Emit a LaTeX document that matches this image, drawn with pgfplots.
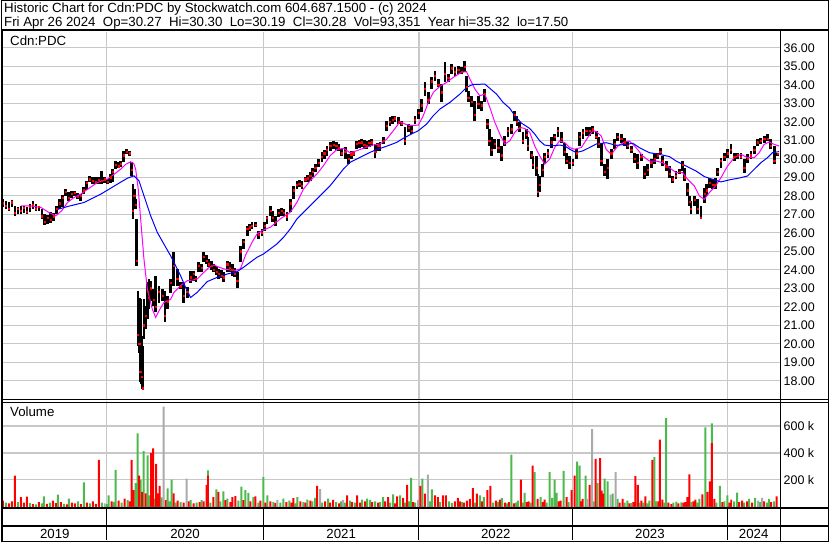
\documentclass[border=0pt]{standalone}
\usepackage{pgfplots}
\pgfplotsset{compat=1.18}
\usepackage{pgfplotstable}
\usepackage{fontspec}
\setmainfont{Liberation Sans}
\definecolor{volgreen}{RGB}{76,185,76}
\definecolor{volred}{RGB}{255,0,0}
\definecolor{volgray}{RGB}{170,170,170}
\definecolor{gridgray}{RGB}{200,200,200}
\definecolor{maline}{RGB}{255,0,255}
\definecolor{mbline}{RGB}{0,0,255}

\pgfplotstableread{
t hi lo cl
2 27.82 27.37 27.60
5 27.70 27.30 27.45
8 27.64 27.19 27.30
11 27.77 27.42 27.65
14 27.46 26.92 27.10
17 27.40 27.00 27.30
20 27.46 27.01 27.20
23 27.45 27.05 27.35
26 27.42 27.01 27.15
29 27.55 27.15 27.40
32 27.73 27.28 27.50
35 27.55 27.20 27.30
38 27.46 27.19 27.40
41 27.28 26.74 26.90
44 27.01 26.41 26.60
47 26.95 26.45 26.80
50 27.10 26.52 26.70
53 27.06 26.65 26.90
56 27.46 27.01 27.30
59 27.80 27.30 27.60
62 28.04 27.37 27.90
65 28.36 28.00 28.20
68 28.18 27.73 27.90
71 28.25 27.90 28.10
74 28.27 28.00 28.15
77 28.15 27.80 27.95
80 28.09 27.73 28.00
83 28.45 28.09 28.30
86 28.80 28.30 28.70
89 29.05 28.72 28.90
92 29.00 28.65 28.80
95 28.99 28.63 28.75
98 28.99 28.63 28.85
101 29.35 28.63 28.80
104 29.00 28.70 28.90
107 28.90 28.63 28.75
110 29.20 28.70 29.00
112 29.44 28.72 29.30
115 29.89 29.44 29.70
118 29.85 29.50 29.60
120 29.89 29.53 29.75
123 30.43 29.80 30.20
126 30.52 30.25 30.40
129 30.43 30.16 30.30
130.7 29.80 29.08 29.40
132.3 28.63 26.74 27.20
133.5 28.36 27.82 28.00
135 27.82 27.28 27.50
136 26.74 24.22 24.50
137.3 22.86 19.89 20.50
138.5 22.50 19.50 20.00
139.5 22.41 17.91 18.50
141 20.40 17.80 18.20
141.7 19.89 17.55 17.60
143.3 22.41 20.25 21.00
145 22.05 20.79 21.50
146.7 23.32 21.33 22.80
148.3 23.50 21.90 22.50
150 23.41 22.32 23.00
152.7 22.95 22.05 22.40
155 23.68 21.69 22.00
158.3 23.14 22.23 22.80
161.7 22.95 22.32 22.60
164.3 22.86 21.15 21.50
166.7 22.59 21.87 22.30
170 23.50 22.77 23.30
173.3 24.94 23.14 24.20
176.7 24.04 23.14 23.50
180 23.32 22.95 23.10
183.3 23.32 22.23 22.60
186.7 23.05 22.50 22.80
190 23.95 23.30 23.60
193 23.95 23.41 23.80
195.5 23.68 23.32 23.50
198.3 24.41 23.86 24.20
201 24.30 23.90 24.10
203.3 24.95 24.41 24.70
206 24.80 24.30 24.50
208.3 24.59 24.14 24.30
211 24.50 24.00 24.20
213.3 24.32 23.86 24.00
216 24.20 23.70 23.90
218.3 24.05 23.50 23.80
221 24.00 23.55 23.70
223.3 23.86 23.36 23.60
226.7 24.50 23.86 24.30
229 24.40 23.90 24.10
231.7 24.32 23.68 24.00
234 24.10 23.60 23.80
236.7 23.86 23.00 23.40
240 25.31 24.41 25.00
243.3 25.67 25.13 25.50
246.7 26.39 25.85 26.20
249 26.50 26.10 26.30
251.7 26.57 26.21 26.40
255 26.60 26.30 26.45
258.3 26.12 25.67 25.90
261.7 26.21 25.85 26.00
264 26.60 26.10 26.40
266.7 26.93 26.48 26.80
270 27.47 26.93 27.20
272.5 27.20 26.60 26.80
275 26.93 26.39 26.60
278.3 27.29 26.84 27.10
281 27.35 26.90 27.20
283.3 27.29 26.93 27.10
286.7 27.11 26.66 26.90
290 27.83 27.11 27.60
293.3 28.55 27.83 28.30
296.7 28.82 28.37 28.60
299 28.85 28.45 28.65
301.7 28.82 28.37 28.55
305 29.00 28.73 28.90
307.5 29.10 28.75 28.95
310 29.27 28.82 29.10
312.5 29.50 29.00 29.30
315 29.72 29.27 29.50
318.3 29.99 29.54 29.80
321.7 30.35 29.81 30.10
324 30.50 30.00 30.30
326.7 30.71 30.17 30.50
330 30.89 30.44 30.70
333.3 30.98 30.53 30.75
336 30.90 30.45 30.70
338.3 30.80 30.44 30.60
341.7 30.53 30.17 30.30
345 30.62 29.99 30.40
348.3 30.26 29.72 30.00
351 30.40 30.00 30.25
353.3 30.44 30.17 30.30
356.7 30.98 30.53 30.80
359 31.00 30.60 30.85
361.7 31.07 30.62 30.90
364 31.00 30.55 30.75
366.7 30.98 30.53 30.70
369 31.00 30.65 30.85
371.7 31.07 30.71 30.90
375 30.80 30.03 30.40
377.5 30.85 30.40 30.70
380 30.89 30.44 30.70
383.3 31.16 30.80 31.00
386.7 32.06 31.52 31.80
390 32.24 31.79 32.00
392.5 32.30 31.90 32.10
395 32.33 31.97 32.20
398.3 32.24 31.88 32.00
401.7 32.06 31.79 31.90
405 31.70 30.72 31.00
408.3 31.88 31.43 31.70
411.7 31.79 31.34 31.50
415 32.33 31.88 32.10
418.3 32.69 32.15 32.50
421.7 33.23 32.51 32.90
425 34.13 33.41 33.80
428.3 33.59 32.96 33.20
431.7 34.40 33.77 34.20
435 34.77 34.22 34.50
438.3 34.31 33.86 34.00
441.7 34.04 33.05 33.60
445 35.22 34.13 34.60
448.3 34.58 34.13 34.40
451.7 35.13 34.58 34.90
455 34.95 34.49 34.70
458.3 35.04 34.58 34.80
461.7 34.95 34.58 34.70
465 35.31 34.68 35.00
466.7 34.49 33.59 33.90
468.3 33.68 33.05 33.30
471.7 33.41 32.78 33.10
475 33.14 32.06 32.40
478.3 33.41 32.69 33.00
481.7 33.14 32.60 32.90
485 33.77 33.05 33.50
487.3 32.15 31.61 31.90
489.3 31.61 30.70 31.00
491.7 31.16 30.16 30.50
495 31.06 30.52 30.80
498.3 31.06 30.34 30.60
501.7 30.70 29.89 30.20
505 31.25 30.70 31.00
508.3 31.70 31.16 31.50
511.7 31.88 31.34 31.60
515 32.60 32.06 32.40
517.3 32.33 31.79 32.00
520 31.97 31.43 31.70
523.3 31.43 30.79 31.00
526.7 31.61 31.06 31.30
528.3 31.16 30.43 30.70
531.7 30.43 29.98 30.20
533.3 30.16 29.44 29.70
536.7 30.16 29.08 29.50
538.3 29.17 27.91 28.20
540 29.08 28.18 28.60
542.7 29.71 28.99 29.40
545 30.34 29.71 30.10
548.3 30.52 30.07 30.30
551.7 31.16 30.61 30.90
555 31.34 30.97 31.20
558.3 31.70 31.16 31.50
561.7 31.43 30.88 31.10
565 30.88 30.16 30.40
566.7 30.34 29.71 29.90
570 30.16 29.44 29.80
573.3 29.98 29.62 29.80
576.7 30.52 29.98 30.30
580 31.43 30.70 31.20
583.3 31.61 31.06 31.40
586.7 31.70 31.25 31.50
590 31.70 31.25 31.50
593.3 31.79 31.34 31.60
596.7 31.50 31.05 31.20
599 31.20 30.60 30.80
601.7 30.87 29.61 29.90
605 29.70 29.07 29.30
608.3 29.97 28.89 29.50
611.7 30.51 29.97 30.30
615 31.05 30.51 30.80
618.3 31.41 30.96 31.20
621.7 31.32 30.87 31.10
625 31.14 30.69 30.90
628.3 30.96 30.51 30.70
631.7 30.69 30.33 30.50
635 30.33 29.79 30.00
638.3 30.24 29.43 29.80
641.7 30.24 29.88 30.10
645 29.61 28.89 29.20
648.3 29.70 29.07 29.40
651.7 29.97 29.52 29.80
655 30.24 29.70 30.00
658.3 30.33 29.97 30.20
660.7 30.60 30.24 30.40
663.3 30.15 29.61 29.90
666.7 29.88 29.34 29.60
670 29.61 28.98 29.20
673.3 29.07 28.71 28.90
676.7 29.34 28.89 29.10
680 29.43 29.16 29.30
683.3 29.88 29.34 29.70
685 29.52 28.80 29.00
688.3 28.71 27.99 28.30
690 27.99 27.45 27.70
691.7 27.72 27.00 27.30
695 27.99 27.45 27.80
698.3 27.81 27.00 27.30
701.7 27.45 26.73 26.80
705 28.44 27.63 28.10
707.3 28.62 27.99 28.30
710 28.98 28.44 28.70
713.3 28.89 28.35 28.60
716 28.98 28.35 28.60
718.3 29.52 29.07 29.30
721.7 30.06 29.52 29.90
725 30.33 29.88 30.10
728.3 30.51 30.06 30.30
731.7 30.78 30.24 30.50
735 30.33 29.88 30.10
738.3 30.33 29.97 30.20
741.7 30.33 29.97 30.10
745 29.97 29.25 29.50
748.3 30.24 29.79 30.00
751.7 30.42 29.97 30.20
755 30.69 30.24 30.50
758.3 31.05 30.69 30.90
761.7 31.14 30.78 31.00
765 31.23 30.87 31.10
768.3 31.32 30.96 31.10
771.7 31.05 30.51 30.70
775 30.69 29.70 29.90
778.3 30.30 30.15 30.28
}\pricedata

\pgfplotstableread{
t v
20 27.46
30 27.45
40 27.37
48 27.10
55 26.92
61 27.20
66.7 27.64
73 27.90
80 28.09
88 28.40
96.7 28.72
106.7 28.90
113 29.15
120 29.44
125 29.70
130 29.84
133 29.75
135 29.44
137.5 28.40
140 26.74
143.3 24.58
146.7 22.95
151.7 21.87
155 21.42
158.3 21.78
163.3 22.23
166.7 22.32
170 22.40
173.3 22.77
180 23.14
186.7 23.41
193 23.45
196.7 23.50
203.3 23.86
208 24.10
213.3 24.26
218 24.15
223.3 24.05
233.3 23.95
240 24.05
245 24.77
251.7 25.49
256.7 25.94
261.7 26.12
270 26.30
280 26.75
290 27.11
296.7 27.65
303.3 28.37
310 28.82
316.7 29.18
323.3 29.63
330 30.17
336.7 30.50
343.3 30.57
350 30.32
356.7 30.44
363.3 30.57
373.3 30.75
380 30.80
386.7 31.07
393.3 31.52
400 32.01
405 31.88
410 31.80
418.3 31.82
423.3 32.33
428.3 33.05
433.3 33.59
440 33.92
446.7 34.13
453.3 34.40
461.7 34.68
466.7 34.71
470 34.31
475 33.77
480 33.41
485 33.50
490 32.78
495 31.97
500 31.34
505 30.79
510 30.97
515 31.43
520 31.70
525 31.64
530 31.43
535 30.70
540 30.16
545 29.71
550 29.98
555 30.61
560 30.97
565 30.88
570 30.61
575 30.52
581.7 30.61
588.3 31.16
593.3 31.52
596.7 31.47
601.7 31.23
606.7 30.51
611.7 30.24
618.3 30.69
625 30.91
630 30.96
636.7 30.60
643.3 30.15
650 29.88
656.7 29.88
663.3 29.79
670 29.52
676.7 29.25
683.3 29.25
688.3 28.89
695 28.53
700 27.99
705 27.81
710 28.17
715 28.44
721.7 28.98
728.3 29.61
735 30.06
741.7 30.24
748.3 30.06
755 30.06
760 30.33
765 30.78
770 30.91
775 30.78
780 30.69
}\maA

\pgfplotstableread{
t v
55 27.24
66.7 27.42
83.3 27.64
100 28.09
116.7 28.63
126.7 28.95
133.3 29.08
138.3 28.81
143.3 28.00
150 26.92
156.7 26.02
163.3 25.39
170 24.76
175 24.22
180 23.68
185 23.05
190 22.50
196.7 22.78
206.7 23.36
216.7 23.59
226.7 23.77
236.7 23.90
243.3 24.14
250 24.41
256.7 24.68
263.3 24.86
270 25.13
276.7 25.40
283.3 25.76
290 26.21
296.7 26.75
303.3 27.11
310 27.47
316.7 27.83
323.3 28.19
330 28.55
336.7 29.00
343.3 29.45
350 29.81
356.7 29.99
363.3 30.17
370 30.35
376.7 30.50
383.3 30.62
390 30.75
396.7 30.89
403.3 31.11
410 31.30
418.3 31.52
426.7 31.88
433.3 32.33
440 32.69
450 33.05
460 33.50
466.7 33.86
473.3 34.03
480 34.03
485 34.04
490 33.81
496.7 33.50
503.3 33.05
510 32.73
515 32.33
521.7 31.93
530 31.64
535 31.34
540 30.97
545 30.74
551.7 30.70
560 30.74
565 30.70
570 30.52
576.7 30.34
583.3 30.43
590 30.61
596.7 30.80
606.7 30.87
616.7 30.73
626.7 30.78
633.3 30.84
640 30.60
650 30.33
660 30.24
670 30.12
676.7 29.88
686.7 29.61
696.7 29.34
705 29.04
713.3 28.89
721.7 28.75
730 28.86
740 28.96
748.3 29.07
755 29.43
761.7 29.79
768.3 30.06
773.3 30.33
780 30.39
}\maB

\pgfplotstableread{
t g r s
2 0 46 0
5 30 0 0
8 0 25 0
11 0 40 0
14 0 232 0
17 35 0 0
20 0 72 0
23 0 30 0
26 0 75 0
29 28 0 0
32 0 20 0
35 18 0 0
38 0 35 0
41 25 0 0
43 77 0 0
46 0 22 0
49 30 0 0
52 0 45 0
55 0 28 0
57 90 0 0
60 0 35 0
63 22 0 0
66 0 18 0
68 60 0 0
71 0 30 0
74 0 25 0
77 40 0 0
80 0 20 0
83 181 0 0
86 0 30 0
89 25 0 0
92 0 40 0
95 0 22 0
98 0 349 0
101 30 0 0
104 0 0 25
106 20 0 0
108 85 0 0
111 0 40 0
113 35 0 0
115 274 0 0
118 0 45 0
121 30 0 0
124 0 60 0
127 50 0 0
129 0 40 0
131 0 349 0
133 0 124 0
135 175 0 0
137 545 0 0
138.5 0 232 0
140 200 0 0
141.5 0 110 0
143 413 0 0
145 0 100 0
147 382 0 0
149 85 0 0
150.5 0 400 0
152.5 0 434 0
154 60 0 0
155.5 0 318 0
157 0 100 0
159 0 155 0
161 70 0 0
163 0 0 744
165 0 50 0
167 137 0 0
169 40 0 0
171 201 0 0
173 0 100 0
175 30 0 0
177 0 45 0
180 35 0 0
183 0 30 0
186 0 0 209
188 0 40 0
190 50 0 0
193 0 25 0
196 30 0 0
199 0 35 0
201 50 0 0
203 0 40 0
206 0 163 0
207.5 271 232 0
210 30 0 0
213 0 72 0
216 129 0 0
218 0 110 0
220 40 0 0
223 115 0 0
225 0 50 0
227 60 0 0
230 0 35 0
232 0 72 0
235 0 80 0
238 45 0 0
241 150 0 0
243 0 50 0
245 124 0 0
248 103 0 0
250 0 40 0
253 72 0 0
255 0 77 0
258 30 0 0
260 0 45 0
263 222 0 0
265 0 30 0
267 85 0 0
270 0 40 0
273 35 0 0
275 0 28 0
277 0 0 52
280 30 0 0
283 60 0 0
286 0 35 0
289 45 0 0
291 0 30 0
293 0 64 0
295 25 0 0
297 72 0 0
300 0 40 0
303 35 0 0
305 0 30 0
307 54 0 0
310 0 45 0
312 40 0 0
315 67 0 0
317 0 155 0
320 0 0 132
322 30 0 0
325 0 40 0
328 60 0 0
330 0 30 0
333 0 52 0
336 35 0 0
339 0 25 0
341 40 0 0
343 0 0 52
345 30 0 0
347 0 85 0
350 45 0 0
352 0 35 0
355 30 0 0
357 0 85 0
360 0 30 0
362 54 0 0
365 0 40 0
367 60 0 0
370 52 0 0
372 0 35 0
375 40 0 0
378 0 30 0
380 35 0 0
383 72 0 0
385 0 40 0
388 0 72 0
390 30 0 0
393 93 0 0
395 0 25 0
397 0 77 0
400 85 0 0
403 0 67 0
405 30 0 0
407 0 163 0
409 40 0 0
411 214 0 0
413 0 35 0
415 30 0 0
418 0 0 52
420.5 0 155 0
422.5 209 0 0
425 0 98 0
428 0 0 238
430 40 0 0
432 129 0 0
435 0 85 0
438 0 72 0
440 35 0 0
443 0 85 0
446 0 85 0
449 40 0 0
452 28 0 0
455 0 40 0
458 0 67 0
460 0 40 0
462 35 0 0
464 0 30 0
467 0 46 0
470 0 59 0
473 0 139 0
475 30 0 0
477 0 98 0
480 85 0 0
482 0 40 0
484 72 0 0
487.5 0 124 0
490.5 0 155 0
493 30 0 0
496 0 46 0
498 35 0 0
500 0 54 0
502 64 0 0
505 0 30 0
507 25 0 0
509 0 35 0
511.5 388 0 0
514 0 25 0
516 30 0 0
518 46 0 0
521 0 201 0
523 30 0 0
525 103 0 0
527 0 35 0
529 0 41 0
531 30 0 0
533 0 305 0
535 258 0 0
538 0 59 0
541 72 0 0
543 0 35 0
545 0 54 0
547 30 0 0
550 258 0 0
552.5 67 0 0
555 201 0 0
557 103 0 0
559 0 40 0
561 0 46 0
564 266 0 0
567 0 72 0
569 35 0 0
572 0 124 0
575 0 232 0
577.5 336 0 0
580 305 0 0
581.5 0 40 0
583 0 59 0
586 232 0 0
588 0 0 59
590 0 163 0
592.5 0 0 576
594 40 0 0
596 0 356 0
598 176 0 0
600.5 0 362 0
602 0 120 0
603.5 0 98 0
605 209 0 0
608 189 0 0
611 0 0 90
613 98 0 0
616 0 0 258
618 59 0 0
620 0 30 0
623 0 59 0
625 30 0 0
628 46 0 0
630 0 25 0
632 28 0 0
634 0 35 0
636 0 227 0
638.5 0 163 0
640 30 0 0
642 0 46 0
644 30 0 0
646 0 77 0
648 25 0 0
650 46 0 0
653 0 349 0
655 369 0 0
657 41 0 0
659 0 40 0
660.5 0 499 0
663 0 54 0
665 30 0 0
666.7 659 0 0
669 0 30 0
672 0 20 0
674 30 0 0
677 39 0 0
679 0 25 0
682 33 0 0
684 0 30 0
686 0 35 0
688 0 72 0
690 0 240 0
692 35 0 0
694 0 40 0
696 0 54 0
698 30 0 0
700 59 0 0
703 0 93 0
706 589 0 0
708 0 111 0
710.5 0 189 0
712.5 620 473 0
715 0 59 0
717 30 0 0
720.5 155 0 0
723 0 35 0
725 40 0 0
728 85 0 0
730 0 30 0
732 0 54 0
735 40 0 0
738 106 0 0
740 0 35 0
743 0 46 0
745 30 0 0
748 0 40 0
750 59 0 0
753 0 30 0
756 67 0 0
759 0 0 46
761 35 0 0
763 0 0 67
765 0 40 0
768 30 0 0
770 59 0 0
772 0 35 0
775 41 0 0
777.5 0 77 0
}\voldata

\begin{document}
\begin{tikzpicture}[font=\fontsize{13.3}{15}\selectfont]
\fill[white] (0pt,0pt) rectangle (830pt,-543pt);

\begin{axis}[
  at={(2pt,-400pt)}, anchor=south west, scale only axis,
  width=779pt, height=368pt,
  xmin=2, xmax=781, ymin=17.01, ymax=36.86,
  axis line style={draw=none}, tick style={draw=none},
  xtick={106,263,419,573,728}, xticklabels={},
  ytick={18,19,...,36}, yticklabel pos=right,
  yticklabel style={/pgf/number format/.cd, fixed, fixed zerofill, precision=2, /pgf/number format/assume math mode=true, /tikz/.cd, anchor=west, xshift=0pt, font=\fontsize{12.5}{13}\selectfont},
  grid=major, grid style={draw=gridgray, line width=1.2pt},
]
\addplot[draw=none, mark=none, error bars/.cd, y dir=plus, y explicit, error mark=none,
  error bar style={draw=black, line width=2.8pt}]
  table[x=t, y=lo, y error expr=\thisrow{hi}-\thisrow{lo}] {\pricedata};
\addplot[only marks, mark=square*, mark size=0.6pt, color=red, mark options={draw=none, fill=red}] table[x=t, y=cl] {\pricedata};
\addplot[maline, line width=1pt, mark=none] table[x=t, y=v] {\maA};
\addplot[mbline, line width=1pt, mark=none] table[x=t, y=v] {\maB};
\end{axis}

\begin{axis}[
  at={(2pt,-508pt)}, anchor=south west, scale only axis,
  width=779pt, height=106pt,
  xmin=2, xmax=781, ymin=0, ymax=785,
  axis line style={draw=none}, tick style={draw=none},
  xtick={106,263,419,573,728}, xticklabels={},
  ytick={200,400,600}, yticklabels={200 k,400 k,600 k}, yticklabel pos=right,
  yticklabel style={anchor=west, font=\fontsize{12.5}{13}\selectfont},
  grid=major, grid style={draw=gridgray, line width=1.2pt},
]
\addplot[ybar, bar width=2pt, bar shift=0pt, fill=volgreen, draw=none] table[x=t, y=g] {\voldata};
\addplot[ybar, bar width=2pt, bar shift=0pt, fill=volred, draw=none] table[x=t, y=r] {\voldata};
\addplot[ybar, bar width=2pt, bar shift=0pt, fill=volgray, draw=none] table[x=t, y=s] {\voldata};
\end{axis}

% frames
\draw[black, line width=2pt] (0pt,-30.5pt) -- (830pt,-30.5pt);
\draw[black, line width=1.8pt] (0pt,-400.5pt) -- (830pt,-400.5pt);
\draw[black, line width=0.8pt] (0pt,-403.2pt) -- (830pt,-403.2pt);
\draw[black, line width=2pt] (0pt,-509pt) -- (830pt,-509pt);
\draw[black, line width=2pt] (0pt,-527pt) -- (830pt,-527pt);
\draw[black, line width=1.6pt] (781.5pt,-30.5pt) -- (781.5pt,-542pt);
\foreach \xx in {106,263,419,573,728} {\draw[black, line width=1pt] (\xx pt,-509pt) -- (\xx pt,-541pt);}
\draw[black, line width=1pt] (0.5pt,-0.5pt) rectangle (829.5pt,-542.5pt);
\draw[black, line width=2pt] (1pt,-30pt) -- (1pt,-543pt);

% texts
\node[anchor=base west, inner sep=0pt] at (3pt,-13pt) {Historic Chart for Cdn:PDC by Stockwatch.com 604.687.1500 - (c) 2024};
\node[anchor=base west, inner sep=0pt] at (3pt,-26.7pt) {Fri Apr 26 2024\ \ Op=30.27\ \ Hi=30.30\ \ Lo=30.19\ \ Cl=30.28\ \ Vol=93,351\ \ Year hi=35.32\ \ lo=17.50};
\node[anchor=base west, inner sep=0pt] at (9pt,-45.5pt) {Cdn:PDC};
\node[anchor=base west, inner sep=0pt] at (9pt,-417.5pt) {Volume};
\foreach \xx/\yy in {54/2019,184.5/2020,341/2021,496/2022,650.5/2023,754.5/2024}
  {\node[anchor=base, inner sep=0pt] at (\xx pt,-539.5pt) {\yy};}
\end{tikzpicture}
\end{document}
